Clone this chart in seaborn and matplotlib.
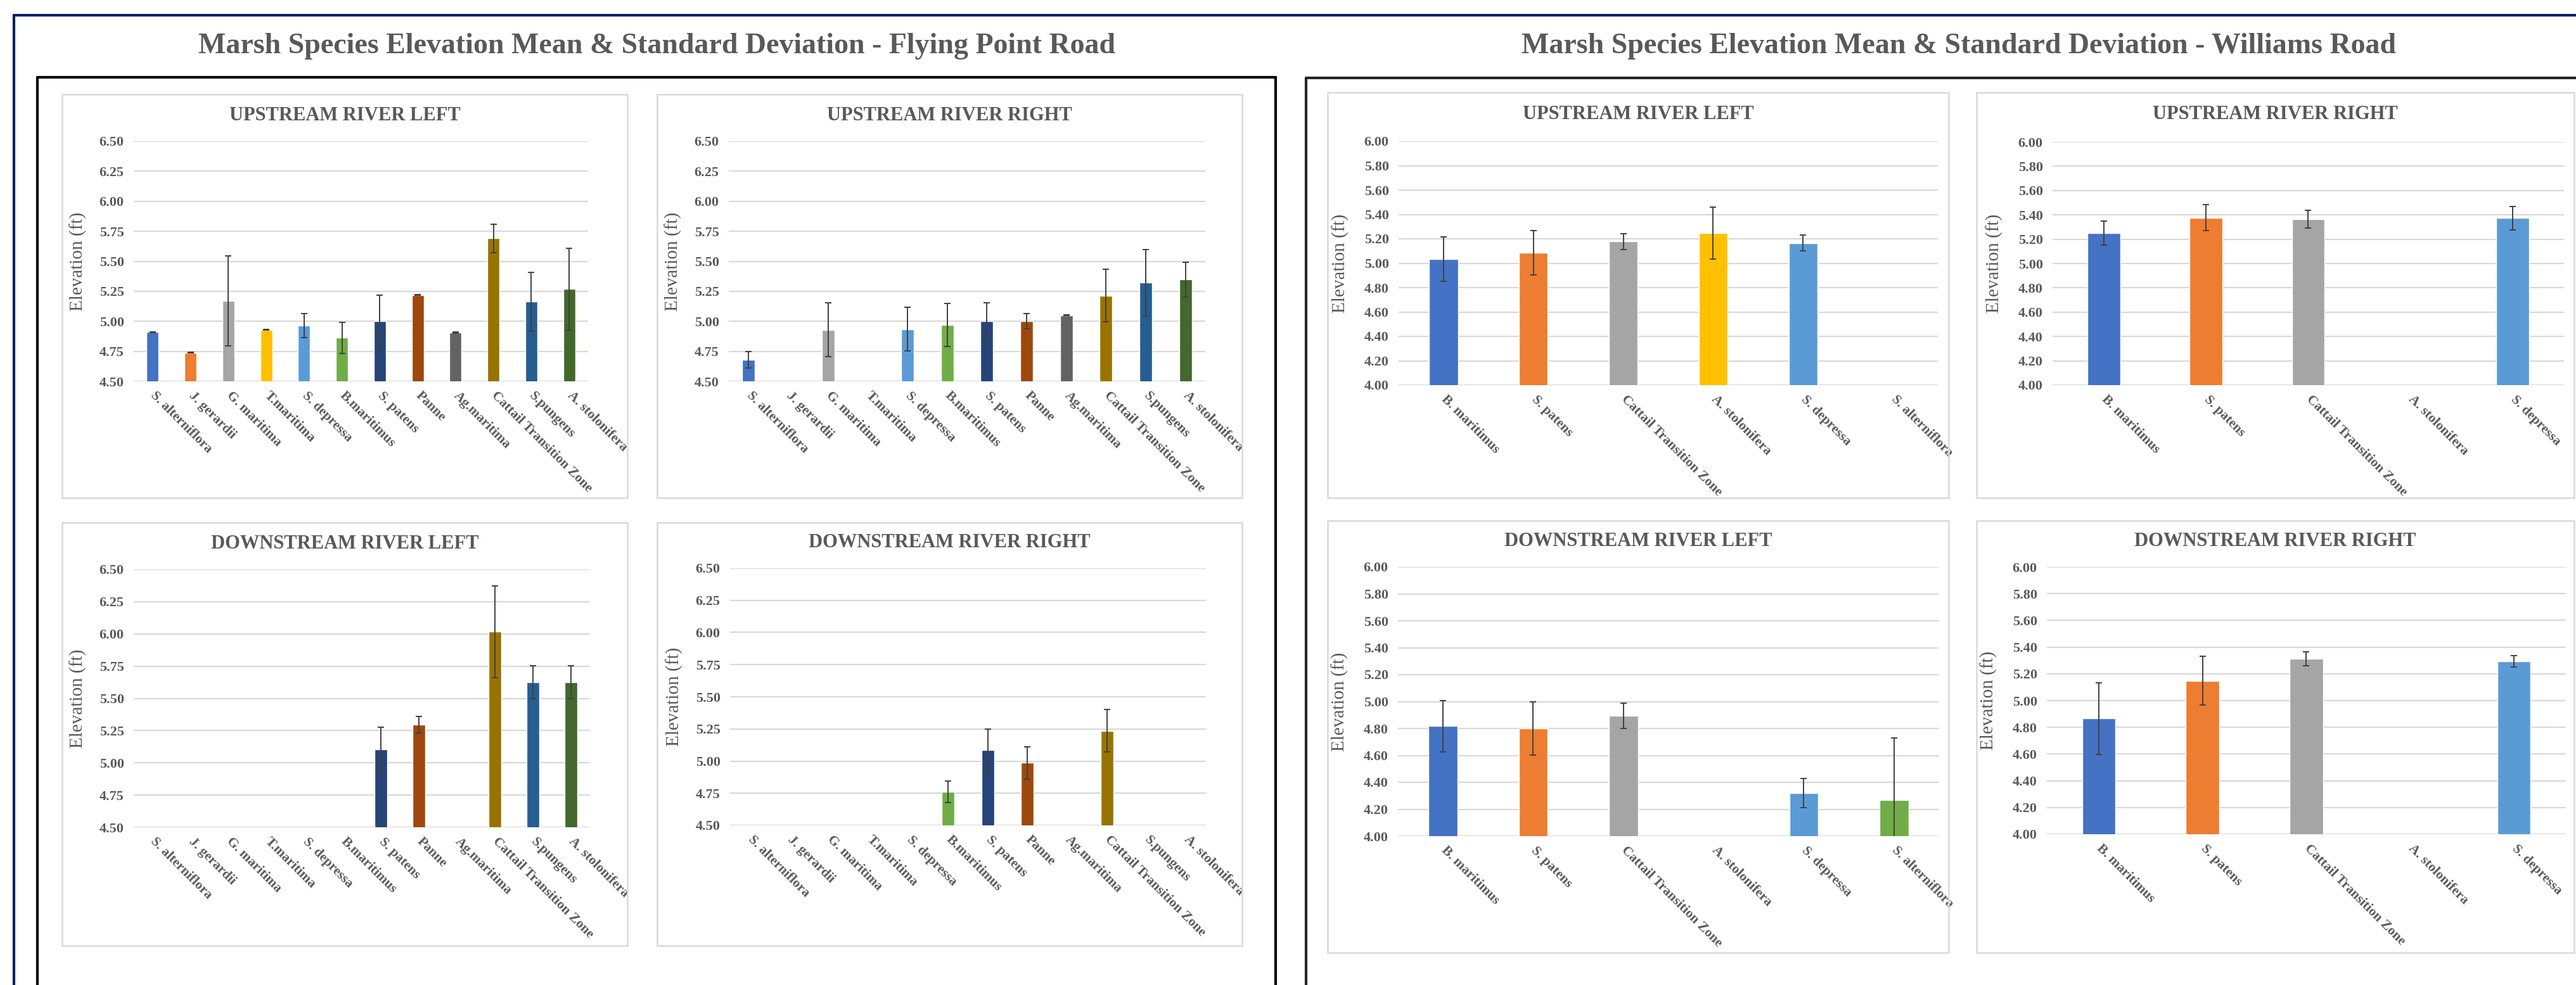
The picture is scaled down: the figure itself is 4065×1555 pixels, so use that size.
import numpy as np
import pandas as pd
import matplotlib
matplotlib.use("Agg")
import matplotlib.pyplot as plt
from matplotlib.lines import Line2D
from matplotlib.patches import Rectangle
from matplotlib.ticker import FormatStrFormatter
import seaborn as sns

# --------------------------
# Data (ft); nan = species not present
# --------------------------
nan = np.nan

fp_species = ["S. alterniflora", "J. gerardii", "G. maritima", "T.maritima", "S. depressa",
              "B.maritimus", "S. patens", "Panne", "Ag.maritima", "Cattail Transition Zone",
              "S.pungens", "A. stolonifera"]
fp_colors = ["#4472C4", "#ED7D31", "#A5A5A5", "#FFC000", "#5B9BD5", "#70AD47",
             "#264478", "#9E480E", "#636363", "#997300", "#255E91", "#43682B"]

fp_up_left_mean = [4.91, 4.74, 5.17, 4.93, 4.965, 4.862, 5.00, 5.22, 4.905, 5.69, 5.164, 5.269]
fp_up_left_sd = [0.003, 0.003, 0.375, 0.003, 0.10, 0.128, 0.22, 0.003, 0.006, 0.117, 0.245, 0.34]

fp_up_right_mean = [4.68, nan, 4.93, nan, 4.934, 4.969, 5.00, 5.003, 5.05, 5.215, 5.322, 5.347]
fp_up_right_sd = [0.067, nan, 0.226, nan, 0.183, 0.178, 0.154, 0.063, 0.003, 0.22, 0.276, 0.145]

fp_down_left_mean = [nan, nan, nan, nan, nan, nan, 5.105, 5.295, nan, 6.016, 5.625, 5.625]
fp_down_left_sd = [nan, nan, nan, nan, nan, nan, 0.173, 0.063, nan, 0.355, 0.128, 0.128]

fp_down_right_mean = [nan, nan, nan, nan, nan, 4.76, 5.084, 4.987, nan, 5.235, nan, nan]
fp_down_right_sd = [nan, nan, nan, nan, nan, 0.085, 0.163, 0.125, nan, 0.166, nan, nan]

wr_species = ["B. maritimus", "S. patens", "Cattail Transition Zone", "A. stolonifera",
              "S. depressa", "S. alterniflora"]
wr_colors = ["#4472C4", "#ED7D31", "#A5A5A5", "#FFC000", "#5B9BD5", "#70AD47"]

wr_up_left_mean = [5.035, 5.086, 5.177, 5.246, 5.165, nan]
wr_up_left_sd = [0.182, 0.182, 0.063, 0.212, 0.066, nan]

wr_up_right_mean = [5.249, 5.377, 5.364, nan, 5.373]
wr_up_right_sd = [0.098, 0.108, 0.071, nan, 0.097]

wr_down_left_mean = [4.817, 4.799, 4.895, nan, 4.319, 4.267]
wr_down_left_sd = [0.190, 0.197, 0.095, nan, 0.107, 0.462]

wr_down_right_mean = [4.865, 5.149, 5.313, nan, 5.292]
wr_down_right_sd = [0.268, 0.183, 0.051, nan, 0.043]

# --------------------------
# Figure layout (pixels of a 4066 x 1555 canvas)
# --------------------------
W, H = 4066, 1555
TEXT = "#595959"
GRID = "#D9D9D9"
SERIF = ["Liberation Serif", "DejaVu Serif"]

sns.set_theme(style="white")
plt.rcParams["font.family"] = SERIF

fig = plt.figure(figsize=(W / 100, H / 100), dpi=100)
fig.patch.set_facecolor("white")


def fx(x):
    return x / W


def fy(y):
    return 1 - y / H


def line(xs, ys, color, lw):
    fig.add_artist(Line2D([fx(x) for x in xs], [fy(y) for y in ys],
                          transform=fig.transFigure, color=color, lw=lw))


def draw_panel(box, ax_box, title, title_y, species, colors, means, sds,
               ylim, ystep, label_off):
    l, t, r, b = box
    fig.add_artist(Rectangle((fx(l), fy(b)), (r - l) / W, (b - t) / H,
                             transform=fig.transFigure, fill=False, ec=GRID, lw=1.8))
    fig.text(fx((l + r) / 2), fy(title_y), title, ha="center", va="center",
             fontsize=22, fontweight="bold", color=TEXT)

    al, at, ar, ab = ax_box
    ax = fig.add_axes([fx(al), fy(ab), (ar - al) / W, (ab - at) / H])

    df = pd.DataFrame({"species": species, "mean": means})
    sns.barplot(data=df, x="species", y="mean", hue="species", order=species,
                hue_order=species, palette=dict(zip(species, colors)), saturation=1,
                width=0.32, legend=False, ax=ax)

    m = np.array(means, dtype=float)
    s = np.array(sds, dtype=float)
    idx = np.where(~np.isnan(m))[0]
    ax.errorbar(idx, m[idx], yerr=s[idx], fmt="none", ecolor="#404040",
                elinewidth=1.4, capsize=3.5, capthick=1.4, zorder=4)

    ax.set_xlim(-0.5, len(species) - 0.5)
    ax.set_ylim(*ylim)
    ax.set_yticks(np.arange(ylim[0], ylim[1] + ystep / 2, ystep))
    ax.yaxis.set_major_formatter(FormatStrFormatter("%.2f"))
    ax.grid(axis="y", color=GRID, lw=1.6)
    ax.grid(axis="x", visible=False)
    ax.set_axisbelow(True)
    sns.despine(ax=ax, left=True, bottom=True)
    ax.tick_params(axis="y", length=0, pad=11, labelsize=16, labelcolor=TEXT)
    ax.tick_params(axis="x", length=0, pad=14, labelsize=15.5, labelcolor=TEXT)
    for lab in ax.get_yticklabels():
        lab.set_fontweight("bold")
    ax.set_xticks(range(len(species)))
    ax.set_xticklabels(species, rotation=-45, ha="left", va="center",
                       rotation_mode="anchor", fontweight="bold")
    ax.set_xlabel("")
    ax.set_ylabel("Elevation (ft)", fontsize=21, color=TEXT)
    ax.yaxis.set_label_coords(-label_off / (ar - al), 0.5)
    return ax


# --------------------------
# Frames and group titles
# --------------------------
line([22, W], [24, 24], "#002060", 3)
line([22, 22], [24, H], "#002060", 3)
line([59, 2013], [122, 122], "black", 3)
line([59, 59], [122, H], "black", 3)
line([2013, 2013], [122, H], "black", 3)
line([2061, W], [123, 123], "#262626", 3)
line([2061, 2061], [123, H], "#262626", 3)

fig.text(fx(1037), fy(73), "Marsh Species Elevation Mean & Standard Deviation - Flying Point Road",
         ha="center", va="center", fontsize=33, fontweight="bold", color=TEXT)
fig.text(fx(3091), fy(73), "Marsh Species Elevation Mean & Standard Deviation - Williams Road",
         ha="center", va="center", fontsize=33, fontweight="bold", color=TEXT)

# --------------------------
# Flying Point Road panels
# --------------------------
fp_lim = (4.5, 6.5)
draw_panel((98, 149, 990, 786), (211, 223, 928, 602), "UPSTREAM RIVER LEFT", 182,
           fp_species, fp_colors, fp_up_left_mean, fp_up_left_sd, fp_lim, 0.25, 74)
draw_panel((1037, 149, 1960, 786), (1150, 223, 1902, 602), "UPSTREAM RIVER RIGHT", 182,
           fp_species, fp_colors, fp_up_right_mean, fp_up_right_sd, fp_lim, 0.25, 74)
draw_panel((98, 825, 990, 1493), (211, 899, 931, 1306), "DOWNSTREAM RIVER LEFT", 858,
           fp_species, fp_colors, fp_down_left_mean, fp_down_left_sd, fp_lim, 0.25, 74)
draw_panel((1037, 825, 1960, 1493), (1152, 897, 1903, 1303), "DOWNSTREAM RIVER RIGHT", 857,
           fp_species, fp_colors, fp_down_right_mean, fp_down_right_sd, fp_lim, 0.25, 74)

# --------------------------
# Williams Road panels
# --------------------------
wr_lim = (4.0, 6.0)
draw_panel((2095, 146, 3075, 786), (2207, 223, 3058, 608), "UPSTREAM RIVER LEFT", 181,
           wr_species, wr_colors, wr_up_left_mean, wr_up_left_sd, wr_lim, 0.2, 78)
draw_panel((3119, 146, 4062, 786), (3239, 224, 4046, 608), "UPSTREAM RIVER RIGHT", 181,
           wr_species[:5], wr_colors[:5], wr_up_right_mean, wr_up_right_sd, wr_lim, 0.2, 78)
draw_panel((2095, 822, 3075, 1504), (2206, 895, 3060, 1320), "DOWNSTREAM RIVER LEFT", 855,
           wr_species, wr_colors, wr_down_left_mean, wr_down_left_sd, wr_lim, 0.2, 78)
draw_panel((3119, 822, 4062, 1504), (3230, 895, 4049, 1317), "DOWNSTREAM RIVER RIGHT", 855,
           wr_species[:5], wr_colors[:5], wr_down_right_mean, wr_down_right_sd, wr_lim, 0.2, 78)

fig.savefig("out.png", dpi=100, facecolor="white")
